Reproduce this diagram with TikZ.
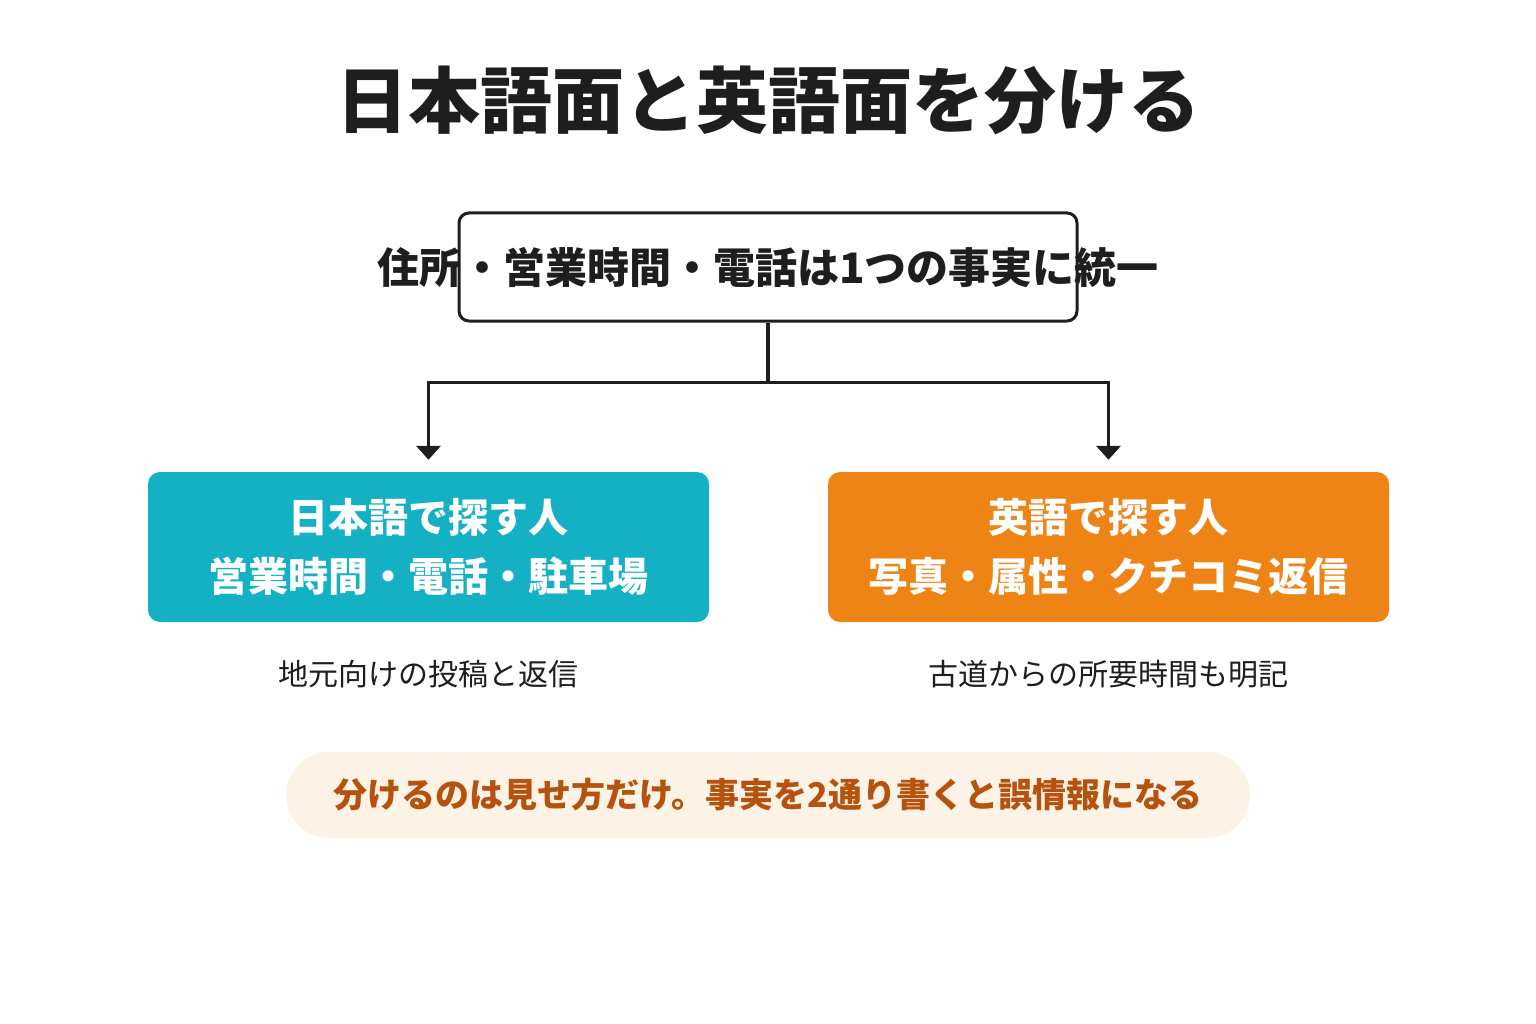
\documentclass[tikz,border=0pt]{standalone}
\usepackage{fontspec}
\setmainfont{Noto Sans CJK JP}
\usetikzlibrary{arrows.meta,positioning}
\definecolor{inkdark}{HTML}{1E1E1E}
\definecolor{teal}{HTML}{14B1C4}
\definecolor{amber}{HTML}{EF8416}
\definecolor{palecream}{HTML}{FDF2E6}
\definecolor{rust}{HTML}{B4520E}
\begin{document}
\begin{tikzpicture}
	[x=1pt, y=-1pt,
	heading/.style={font=\fontsize{72}{76}\selectfont\bfseries, text=inkdark},
	factbox/.style={rectangle, rounded corners=10pt, draw=inkdark, line width=3pt, fill=white, minimum width=618pt, minimum height=108pt},
	facttext/.style={font=\fontsize{42}{46}\selectfont\bfseries, text=inkdark},
	audience/.style={rectangle, rounded corners=12pt, minimum width=561pt, minimum height=150pt, text=white, align=center, font=\fontsize{40}{59}\selectfont\bfseries},
	note/.style={font=\fontsize{30}{34}\selectfont, text=inkdark},
	branch/.style={draw=inkdark, line width=3.5pt, -{Triangle[width=24pt,length=14pt]}},
	warning/.style={rectangle, rounded corners=43pt, fill=palecream, minimum width=964pt, minimum height=86pt, text=rust, font=\fontsize{34}{38}\selectfont\bfseries}]
	\useasboundingbox (0,0) rectangle (1536,1024);
	\node [heading]  		(title)		at (768,100)		{日本語面と英語面を分ける};
	\node [factbox]  		(fact)		at (768,267)		{};
	\node [facttext] 		(fact text)	at (fact.center)	{住所・営業時間・電話は1つの事実に統一};
	\node [audience, fill=teal]  	(japanese)	at (428.5,547)	{日本語で探す人\\営業時間・電話・駐車場};
	\node [audience, fill=amber] 	(english)	at (1108.5,547)	{英語で探す人\\写真・属性・クチコミ返信};
	\node [note]  			(local posts)	[below=35pt of japanese]	{地元向けの投稿と返信};
	\node [note]  			(trail times)	[below=35pt of english]		{古道からの所要時間も明記};
	\node [warning] 		(warning)	at (768,795)		{分けるのは見せ方だけ。事実を2通り書くと誤情報になる};
	\coordinate (split) at ([yshift=-60pt]fact.south);
	\draw [branch] (fact.south) -- (split) -| ([yshift=12pt]japanese.north);
	\draw [branch] (split) -| ([yshift=12pt]english.north);
\end{tikzpicture}
\end{document}
